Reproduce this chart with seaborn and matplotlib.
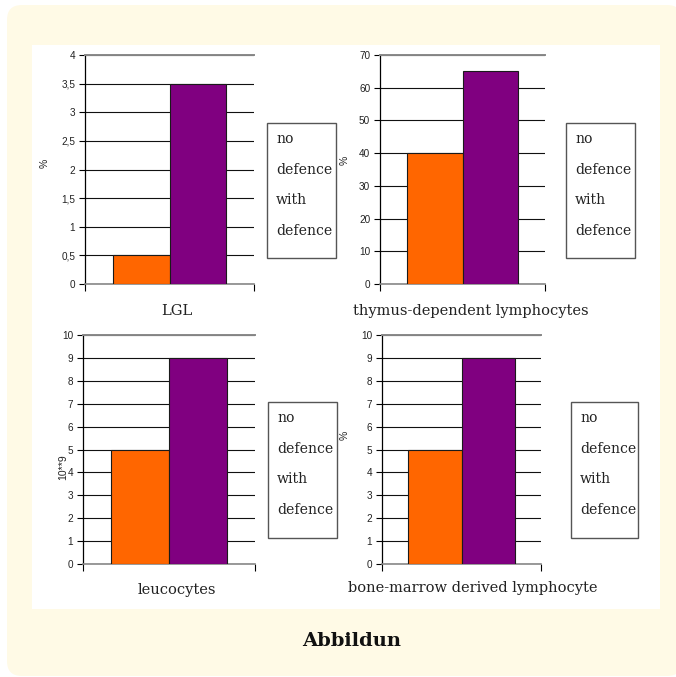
import matplotlib
matplotlib.use("Agg")
import matplotlib.pyplot as plt
import seaborn as sns
import pandas as pd
from matplotlib.patches import FancyBboxPatch, Rectangle

# ---- data -------------------------------------------------------------
groups = ["no defence", "with defence"]
panels = ["LGL", "thymus-dependent lymphocytes", "leucocytes",
          "bone-marrow derived lymphocyte"]
lgl_values = [0.5, 3.5]
thymus_values = [40, 65]
leucocyte_values = [5, 9]
marrow_values = [5, 9]
units = ["%", "%", "10**9", "%"]
y_max = [4, 70, 10, 10]
y_step = [0.5, 10, 1, 1]
bar_colors = ["#FF6600", "#800080"]
figure_title = "Abbildun"

series = [lgl_values, thymus_values, leucocyte_values, marrow_values]

# ---- layout (pixels) --------------------------------------------------
W, H = 676, 677
axes_px = [(85, 55, 254, 284), (380, 55, 545, 284),
           (83, 335, 255, 564), (382, 335, 541, 564)]
legend_px = [(267, 123, 336, 258), (566, 123, 635, 258),
             (268, 402, 337, 538), (571, 402, 638, 538)]
ylabel_pos = [(-0.237, 0.528), (-0.212, 0.54), (-0.116, 0.424), (-0.233, 0.563)]
xlabel_pos = [(0.544, -0.118), (0.55, -0.118), (0.547, -0.114), (0.572, -0.105)]


def fig_box(x0, y0, x1, y1):
    return [x0 / W, 1 - y1 / H, (x1 - x0) / W, (y1 - y0) / H]


sns.set_theme(style="white")
plt.rcParams["font.family"] = ["DejaVu Sans"]

fig = plt.figure(figsize=(W / 100, H / 100), dpi=100, facecolor="white")

# cream card with a white panel holding the charts
fig.patches.append(FancyBboxPatch((7 / W, 1 - 676 / H), 675 / W, 671 / H,
                                  boxstyle="round,pad=0,rounding_size=0.022",
                                  transform=fig.transFigure, facecolor="#FFFAE6",
                                  edgecolor="none", zorder=-3))
fig.patches.append(Rectangle((32 / W, 1 - 609 / H), 628 / W, 564 / H,
                             transform=fig.transFigure, facecolor="white",
                             edgecolor="none", zorder=-2))

serif = "DejaVu Serif"
tick_font = "Liberation Sans"


def comma_fmt(v):
    return f"{v:g}".replace(".", ",")


for i, (name, vals) in enumerate(zip(panels, series)):
    ax = fig.add_axes(fig_box(*axes_px[i]))
    ax.set_facecolor("none")
    df = pd.DataFrame({"panel": [name] * len(groups), "group": groups, "value": vals})
    sns.barplot(data=df, x="panel", y="value", hue="group", hue_order=groups,
                palette=bar_colors, saturation=1, width=0.67, gap=0,
                edgecolor="#1a1a1a", linewidth=0.8, legend=False, ax=ax, zorder=3)
    ax.set_xlim(-0.5, 0.5)
    ax.set_ylim(0, y_max[i])
    n = int(round(y_max[i] / y_step[i]))
    ticks = [k * y_step[i] for k in range(n + 1)]
    ax.set_yticks(ticks)
    ax.set_yticklabels([comma_fmt(t) for t in ticks], fontsize=7.2,
                       family=tick_font, color="#222222")
    ax.set_xticks([-0.5, 0.5])
    ax.set_xticklabels([])
    ax.tick_params(axis="y", direction="out", length=4, width=0.8, pad=3,
                   color="black", left=True)
    ax.tick_params(axis="x", direction="out", length=5, width=0.8,
                   color="black", bottom=True)
    ax.set_axisbelow(True)
    ax.yaxis.grid(True, color="#111111", linewidth=0.8)
    ax.xaxis.grid(False)
    ax.spines["right"].set_visible(False)
    ax.spines["top"].set_color("#888888")
    ax.spines["top"].set_linewidth(1.4)
    ax.spines["bottom"].set_color("#888888")
    ax.spines["bottom"].set_linewidth(1.2)
    ax.spines["left"].set_color("black")
    ax.spines["left"].set_linewidth(0.9)

    ax.set_ylabel(units[i], fontsize=7.5, family=tick_font, color="#222222",
                  va="center")
    ax.yaxis.set_label_coords(*ylabel_pos[i])
    ax.set_xlabel(name, fontsize=10.5, family=serif, color="#222222", va="center")
    ax.xaxis.set_label_coords(*xlabel_pos[i])

    # legend box listing the two groups
    lx0, ly0, lx1, ly1 = legend_px[i]
    fig.patches.append(Rectangle((lx0 / W, 1 - ly1 / H), (lx1 - lx0) / W,
                                 (ly1 - ly0) / H, transform=fig.transFigure,
                                 facecolor="white", edgecolor="#555555",
                                 linewidth=1.0, zorder=1))
    lines = []
    for g in groups:
        lines.extend(g.split(" "))
    for k, word in enumerate(lines):
        fig.text((lx0 + 9) / W, 1 - (ly0 + 16 + k * 30.7) / H, word,
                 family=serif, fontsize=10.1, color="#222222", va="center",
                 ha="left", zorder=2)

fig.text(352 / W, 1 - 641 / H, figure_title, family=serif, fontsize=14,
         fontweight="bold", color="#111111", ha="center", va="center")

fig.savefig("out.png", dpi=100, facecolor=fig.get_facecolor())
